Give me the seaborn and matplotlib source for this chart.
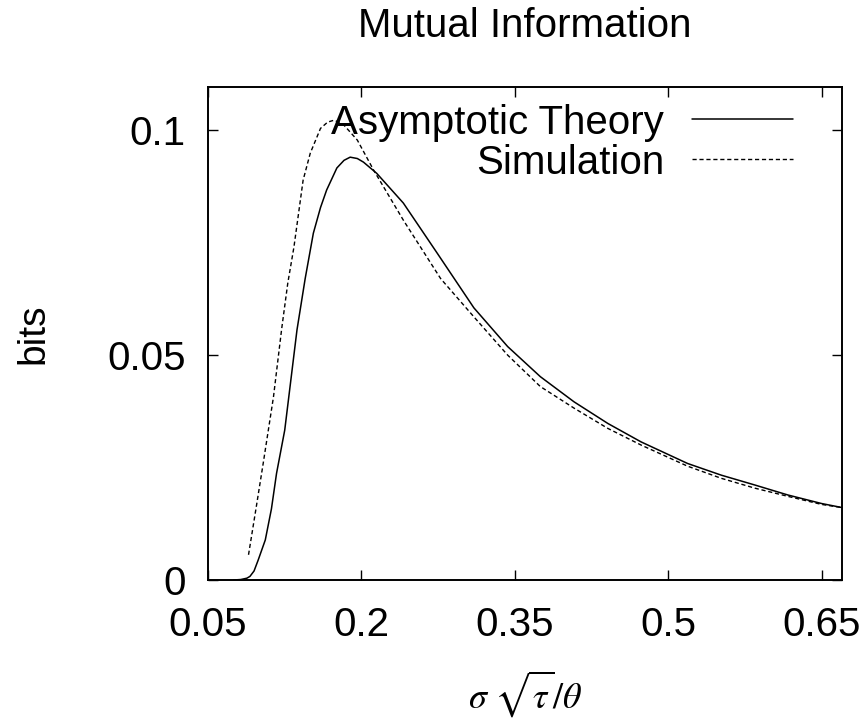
import matplotlib
matplotlib.use("Agg")
import matplotlib.pyplot as plt
import seaborn as sns
import pandas as pd

# Asymptotic theory curve
theory_x = [0.075, 0.082, 0.088, 0.091, 0.095, 0.099, 0.106, 0.112, 0.117, 0.125,
            0.137, 0.145, 0.153, 0.160, 0.166, 0.176, 0.183, 0.189, 0.196, 0.202,
            0.215, 0.241, 0.274, 0.310, 0.343, 0.375, 0.408, 0.441, 0.4735, 0.519,
            0.552, 0.585, 0.617, 0.650, 0.670]
theory_y = [0.0, 0.0001, 0.0004, 0.0008, 0.002, 0.0044, 0.0089, 0.0158, 0.0237, 0.0333,
            0.0556, 0.067, 0.0771, 0.0828, 0.0867, 0.0916, 0.0933, 0.0940, 0.0937, 0.0929,
            0.0904, 0.0838, 0.0727, 0.0605, 0.0519, 0.0452, 0.0396, 0.0348, 0.0307, 0.0259,
            0.0233, 0.0211, 0.0189, 0.0170, 0.0161]

# Simulation curve
sim_x = [0.0896, 0.097, 0.104, 0.114, 0.122, 0.128, 0.134, 0.143, 0.150, 0.160,
         0.167, 0.173, 0.178, 0.183, 0.196, 0.212, 0.241, 0.2775, 0.310, 0.343,
         0.375, 0.408, 0.441, 0.4735, 0.519, 0.552, 0.585, 0.617, 0.650, 0.670]
sim_y = [0.0056, 0.016, 0.026, 0.0407, 0.0558, 0.066, 0.074, 0.0889, 0.0949, 0.1004,
         0.1018, 0.1022, 0.1018, 0.1011, 0.0978, 0.0911, 0.080, 0.067, 0.0585, 0.050,
         0.043, 0.0382, 0.0337, 0.030, 0.0253, 0.0226, 0.0204, 0.0186, 0.0168, 0.0161]

x_ticks = [0.05, 0.2, 0.35, 0.5, 0.65]
x_tick_labels = ["0.05", "0.2", "0.35", "0.5", "0.65"]
y_ticks = [0, 0.05, 0.1]
y_tick_labels = ["0", "0.05", "0.1"]

sns.set_style("ticks")
plt.rcParams["font.family"] = ["Liberation Sans", "DejaVu Sans"]
plt.rcParams["mathtext.fontset"] = "stix"
plt.rcParams["text.color"] = "black"
plt.rcParams["axes.labelcolor"] = "black"

theory = pd.DataFrame({"x": theory_x, "y": theory_y})
sim = pd.DataFrame({"x": sim_x, "y": sim_y})

fig = plt.figure(figsize=(8.65, 7.22), dpi=100)
ax = fig.add_axes([0.2405, 0.1967, 0.7329, 0.6828])

sns.lineplot(data=theory, x="x", y="y", ax=ax, color="black", linewidth=1.1,
             estimator=None, label="Asymptotic Theory")
sns.lineplot(data=sim, x="x", y="y", ax=ax, color="black", linewidth=1.0,
             estimator=None, label="Simulation", linestyle=(0, (3, 2)))

ax.set_xlim(0.05, 0.67)
ax.set_ylim(0, 0.1096)
ax.set_xticks(x_ticks)
ax.set_xticklabels(x_tick_labels)
ax.set_yticks(y_ticks)
ax.set_yticklabels(y_tick_labels)
ax.tick_params(direction="in", length=7, width=1.0, labelsize=29, pad=16,
               top=True, right=True, colors="black")
ax.tick_params(axis="x", pad=19)
for s in ax.spines.values():
    s.set_linewidth(1.4)
    s.set_color("black")

ax.set_xlabel(r"$\sigma\ \sqrt{\tau}/\theta$", fontsize=26, labelpad=17)
ax.set_ylabel("bits", fontsize=28, labelpad=40)
ax.set_title("Mutual Information", fontsize=29, pad=36, color="black")

leg = ax.legend(loc="upper right", bbox_to_anchor=(0.98, 1.04), frameon=False,
                markerfirst=False, fontsize=29, handlelength=2.5,
                handletextpad=0.7, labelspacing=0.05)
for t in leg.get_texts():
    t.set_ha("right")

fig.savefig("out.png", dpi=100)
